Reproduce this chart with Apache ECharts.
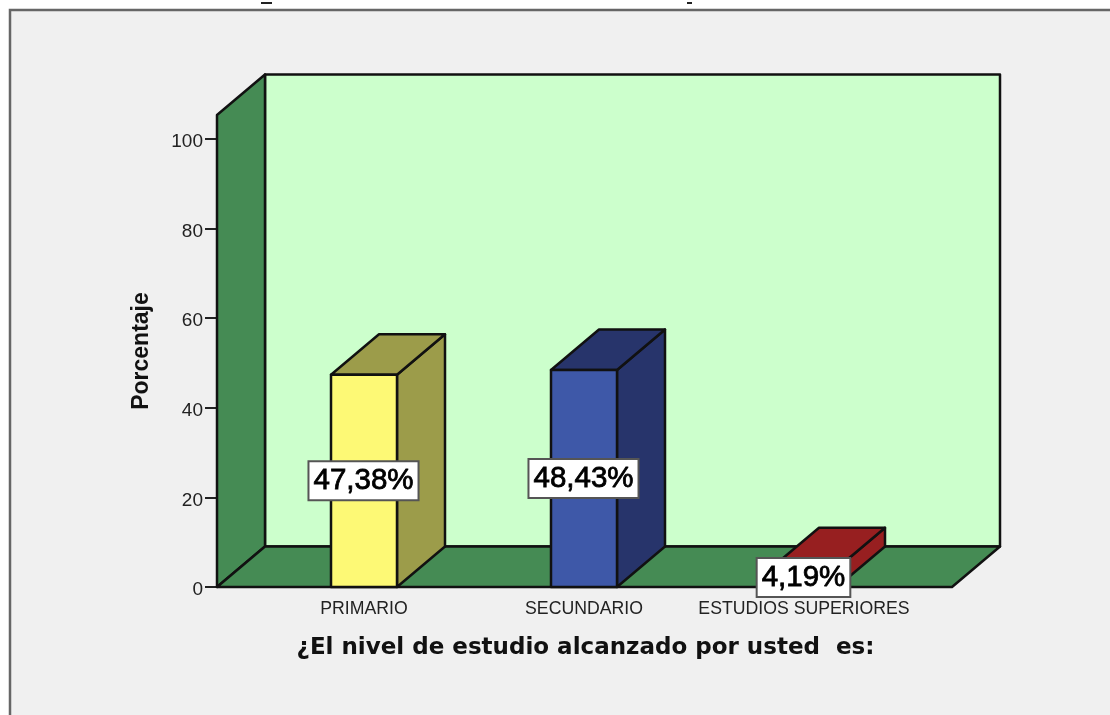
<!DOCTYPE html>
<html>
<head>
<meta charset="utf-8">
<style>
html, body { margin: 0; padding: 0; background: #fff; }
#chart { width: 1110px; height: 715px; }
</style>
<script src="https://cdn.jsdelivr.net/npm/echarts@6/dist/echarts.min.js"></script>
</head>
<body>
<div id="chart"></div>
<script>
const categories = ['PRIMARIO', 'SECUNDARIO', 'ESTUDIOS SUPERIORES']
const percentages = [47.38, 48.43, 4.19]
const frontColors = ['#fdf975', '#3e58a8', '#971f20']
const sideColors = ['#9c9c4a', '#27346b', '#971f20']
const yTicks = [0, 20, 40, 60, 80, 100]
const yMax = 105.36

// profundidad del efecto 3D
const depthX = 48
const depthY = -40.5

const line = { stroke: '#111', lineWidth: 2.5, lineJoin: 'round' }

const poly = (points, fill) => ({
    type: 'polygon',
    shape: { points },
    style: { fill, ...line }
})

const renderWalls = (params, api) => {
    const a = api.coord([0, 0])
    const b = api.coord([1, 0])
    const c = api.coord([0, yMax])
    const back = (p) => [p[0] + depthX, p[1] + depthY]
    const d = [b[0], c[1]]
    return {
        type: 'group',
        children: [
            poly([back(a), back(b), back(d), back(c)], '#ccffcc'),
            poly([a, back(a), back(c), c], '#458b54'),
            poly([a, b, back(b), back(a)], '#458b54')
        ]
    }
}

const renderBar = (params, api) => {
    const i = api.value(0)
    const value = api.value(1)
    const center = api.coord([i, 0])
    const top = api.coord([i, value])
    const half = api.size([1, 0])[0] * 0.15
    const fl = [center[0] - half, center[1]]
    const fr = [center[0] + half, center[1]]
    const tl = [center[0] - half, top[1]]
    const tr = [center[0] + half, top[1]]
    const back = (p) => [p[0] + depthX, p[1] + depthY]
    return {
        type: 'group',
        children: [
            poly([fr, back(fr), back(tr), tr], sideColors[i]),
            poly([tl, tr, back(tr), back(tl)], sideColors[i]),
            poly([fl, fr, tr, tl], frontColors[i]),
            {
                type: 'text',
                z2: 10,
                style: {
                    text: value.toFixed(2).replace('.', ',') + '%',
                    x: center[0] - 0.5,
                    y: (center[1] + top[1]) / 2,
                    align: 'center',
                    verticalAlign: 'middle',
                    font: '29.5px "Liberation Sans"',
                    fill: '#000',
                    stroke: '#000',
                    lineWidth: 0.8,
                    backgroundColor: '#fff',
                    borderColor: '#555',
                    borderWidth: 2,
                    padding: [4, 4, 3, 4]
                }
            }
        ]
    }
}

const myChart = echarts.init(document.getElementById('chart'), null, { renderer: 'canvas' })

myChart.setOption({
    animation: false,
    backgroundColor: '#fff',
    graphic: [
        {
            type: 'rect',
            z: -10,
            shape: { x: 10, y: 10, width: 1130, height: 730 },
            style: { fill: '#f0f0f0', stroke: '#666', lineWidth: 2.5 }
        },
        // restos del titulo recortado arriba
        { type: 'rect', z: -10, shape: { x: 261, y: 2, width: 11, height: 2 }, style: { fill: '#222' } },
        { type: 'rect', z: -10, shape: { x: 687, y: 2, width: 5, height: 2 }, style: { fill: '#222' } }
    ],
    grid: [
        { left: 217, top: 115, width: 735, height: 472 },
        { left: 254, top: 115, width: 660, height: 472 }
    ],
    xAxis: [
        { type: 'value', gridIndex: 0, min: 0, max: 1, show: false },
        {
            type: 'category',
            gridIndex: 1,
            data: categories,
            name: '¿El nivel de estudio alcanzado por usted  es:',
            nameLocation: 'middle',
            nameGap: 50,
            nameTextStyle: {
                color: '#111',
                fontSize: 23,
                fontWeight: 'bold',
                fontFamily: 'DejaVu Sans',
                padding: [0, 0, 0, 3]
            },
            axisLine: { show: false },
            axisTick: { alignWithLabel: true, length: 11, lineStyle: { color: '#222', width: 2 } },
            axisLabel: {
                color: '#222',
                fontSize: 17.7,
                fontFamily: 'Liberation Sans',
                margin: 13,
                interval: 0
            }
        }
    ],
    yAxis: [
        {
            type: 'value',
            gridIndex: 0,
            min: 0,
            max: yMax,
            name: 'Porcentaje',
            nameLocation: 'middle',
            nameGap: 64,
            nameTextStyle: {
                color: '#111',
                fontSize: 23,
                fontWeight: 'bold',
                fontFamily: 'Liberation Sans'
            },
            axisLine: { show: false },
            axisTick: { customValues: yTicks, length: 12, lineStyle: { color: '#222', width: 2 } },
            axisLabel: {
                customValues: yTicks,
                color: '#222',
                fontSize: 19,
                fontFamily: 'Liberation Sans',
                margin: 14,
                verticalAlign: 'top',
                lineHeight: 6
            },
            splitLine: { show: false }
        },
        { type: 'value', gridIndex: 1, min: 0, max: yMax, show: false }
    ],
    series: [
        {
            type: 'custom',
            xAxisIndex: 0,
            yAxisIndex: 0,
            z: 1,
            silent: true,
            data: [[0, 0]],
            renderItem: renderWalls
        },
        {
            type: 'custom',
            xAxisIndex: 1,
            yAxisIndex: 1,
            z: 2,
            data: percentages.map((v, i) => [i, v]),
            encode: { x: 0, y: 1 },
            renderItem: renderBar
        }
    ]
})

window.addEventListener('resize', () => {
    myChart.resize()
})
</script>
</body>
</html>
